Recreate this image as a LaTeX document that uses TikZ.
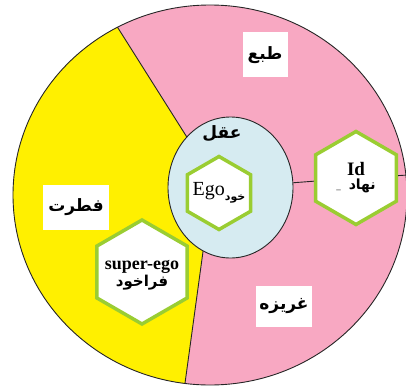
\documentclass[tikz,border=0pt]{standalone}
\usepackage{fontspec}
\setmainfont{Liberation Serif}
\newfontfamily\fafont[Script=Arabic]{DejaVu Sans}
\TeXXeTstate=1
\usetikzlibrary{shapes.geometric}
\definecolor{pieyellow}{HTML}{FFF000}
\definecolor{piepink}{HTML}{F8A8C2}
\definecolor{egoblue}{HTML}{D6EBF1}
\definecolor{hexgreen}{HTML}{9ACD32}
\newcommand{\fa}[1]{{\fafont\bfseries\beginR #1\endR}}

\begin{document}
\begin{tikzpicture}[x=1pt, y=-1pt, every node/.style={align=center},
  hexa/.style={draw=hexgreen, line width=3.5pt, fill=white, shape=regular polygon, regular polygon sides=6, regular polygon rotate=30, inner sep=0pt},
  tag/.style={fill=white, inner sep=0pt, font=\fontsize{17}{19}\selectfont},
  rim/.style={draw=black!85, line width=0.9pt}]
\useasboundingbox (0,0) rectangle (406,385);
\coordinate (c) at (210,195);
\coordinate (e) at (230.5,187.5);
\path (c) ++(242:197 and 190) coordinate (ytop);
\path (c) ++(97.3:197 and 190) coordinate (ybot);
\path (e) ++(225.7:62.5 and 70.5) coordinate (etop);
\path (e) ++(116:62.5 and 70.5) coordinate (ebot);
\path (c) ++(-6:197 and 190) coordinate (rimR);
% rings
\fill[piepink] (c) ellipse [x radius=197, y radius=190];
\fill[pieyellow] (ytop) arc [start angle=242, end angle=97.3, x radius=197, y radius=190] -- (ebot) arc [start angle=116, end angle=225.7, x radius=62.5, y radius=70.5] -- cycle;
\draw[rim] (c) ellipse [x radius=197, y radius=190];
\draw[rim] (ytop) -- (etop);
\draw[rim] (ybot) -- (ebot);
\node[ellipse, draw=black!85, line width=0.9pt, fill=egoblue, inner sep=0pt, minimum width=125, minimum height=141] (aql) at (e) {};
% hexagons
\node[hexa, minimum size=73] (ego) at (219,193) {};
\node[hexa, minimum size=93] (id) at (356,178) {};
\node[hexa, minimum size=104] (sup) at (142,272) {};
\draw[rim] (aql) -- (id);
\draw[rim] (id) -- (rimR);
% labels
\node[font=\fontsize{17}{19}\selectfont] (aqlt) at (222,134) {\fa{عقل}};
\node[inner sep=0pt] (egot) at (ego) {\fontsize{20}{22}\selectfont Ego\raisebox{-5pt}{\fontsize{11}{12}\selectfont\fa{خود}}};
\node[inner sep=0pt] (idt) at (356,178) {\fontsize{19}{21}\selectfont\bfseries Id\\[2pt] \fontsize{9}{10}\selectfont\_\hspace{8pt}\fontsize{14}{16}\selectfont\fa{نهاد}};
\node[inner sep=0pt] (supt) at (142,275) {\fontsize{18}{20}\selectfont\bfseries super-ego\\[1pt] \fontsize{15}{17}\selectfont\fa{فراخود}};
\node[tag, minimum width=45, minimum height=45] (tab) at (265,55) {\fa{طبع}};
\node[tag, minimum width=66, minimum height=45] (fet) at (76,207) {\fa{فطرت}};
\node[tag, minimum width=56, minimum height=41] (gha) at (284,306) {\fa{غریزه}};
\end{tikzpicture}
\end{document}
